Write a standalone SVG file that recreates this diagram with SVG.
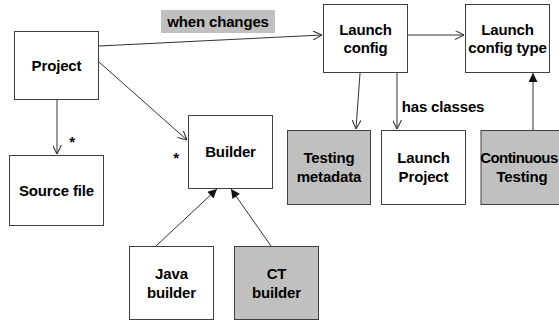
<svg xmlns="http://www.w3.org/2000/svg" width="559" height="321" viewBox="0 0 559 321">
<defs>
<marker id="open" viewBox="0 0 10 10" refX="10" refY="5" markerWidth="9" markerHeight="9" markerUnits="userSpaceOnUse" orient="auto">
<path d="M0,0 L10,5 L0,10" fill="none" stroke="#333" stroke-width="1.2"/>
</marker>
<marker id="solid" viewBox="0 0 10 10" refX="10" refY="5" markerWidth="10" markerHeight="9" markerUnits="userSpaceOnUse" orient="auto">
<path d="M0,0 L10,5 L0,10 Z" fill="#111" stroke="none"/>
</marker>
</defs>
<style>
rect.n{fill:#fff;stroke:#404040;stroke-width:1}
rect.g{fill:#c0c0c0;stroke:#404040;stroke-width:1}
text{font-family:"Liberation Sans",Arial,sans-serif;font-weight:bold;font-size:15px;fill:#000;text-anchor:middle;letter-spacing:-0.15px}
.c line{stroke:#333;stroke-width:1}
</style>
<rect x="161" y="10" width="114" height="23" fill="#c0c0c0"/>
<text x="218" y="27">when changes</text>
<text x="443" y="112">has classes</text>
<text x="72" y="147">*</text>
<text x="176" y="163">*</text>
<g class="c" id="connectors">
<line x1="99" y1="46" x2="322" y2="35" marker-end="url(#open)"/>
<line x1="407" y1="35" x2="464" y2="35" marker-end="url(#open)"/>
<line x1="57" y1="99" x2="57" y2="154" marker-end="url(#open)"/>
<line x1="99" y1="62" x2="187" y2="140" marker-end="url(#open)"/>
<line x1="360" y1="73" x2="356" y2="129" marker-end="url(#open)"/>
<line x1="397" y1="73" x2="397" y2="129" marker-end="url(#open)"/>
<line x1="533" y1="130" x2="533" y2="73" marker-end="url(#solid)"/>
<line x1="156" y1="246" x2="217" y2="189" marker-end="url(#solid)"/>
<line x1="271" y1="246" x2="231" y2="189" marker-end="url(#solid)"/>
</g>
<g id="project"><rect class="n" x="14.5" y="31.5" width="84" height="68"/><text x="56.5" y="71">Project</text></g>
<g id="launch-config"><rect class="n" x="323.5" y="4.5" width="84" height="68"/><text x="365.5" y="35">Launch</text><text x="365.5" y="53">config</text></g>
<g id="launch-config-type"><rect class="n" x="465.5" y="4.5" width="84" height="68"/><text x="507.5" y="35">Launch</text><text x="507.5" y="53">config type</text></g>
<g id="builder"><rect class="n" x="188.5" y="115.5" width="84" height="73"/><text x="230.5" y="157">Builder</text></g>
<g id="source-file"><rect class="n" x="9.5" y="155.5" width="94" height="70"/><text x="56.5" y="196">Source file</text></g>
<g id="testing-metadata"><rect class="g" x="287.5" y="130.5" width="83" height="74"/><text x="329" y="163">Testing</text><text x="329" y="182">metadata</text></g>
<g id="launch-project"><rect class="n" x="381.5" y="130.5" width="84" height="74"/><text x="423.5" y="163">Launch</text><text x="423.5" y="182">Project</text></g>
<g id="continuous-testing"><rect class="g" x="481" y="130.5" width="84" height="74"/><text x="519" y="163" style="letter-spacing:-0.6px">Continuous</text><text x="522" y="182">Testing</text></g>
<g id="java-builder"><rect class="n" x="129.5" y="246.5" width="84" height="73"/><text x="171.5" y="279">Java</text><text x="171.5" y="298">builder</text></g>
<g id="ct-builder"><rect class="g" x="234.5" y="246.5" width="84" height="73"/><text x="276.5" y="279">CT</text><text x="276.5" y="298">builder</text></g>
</svg>
